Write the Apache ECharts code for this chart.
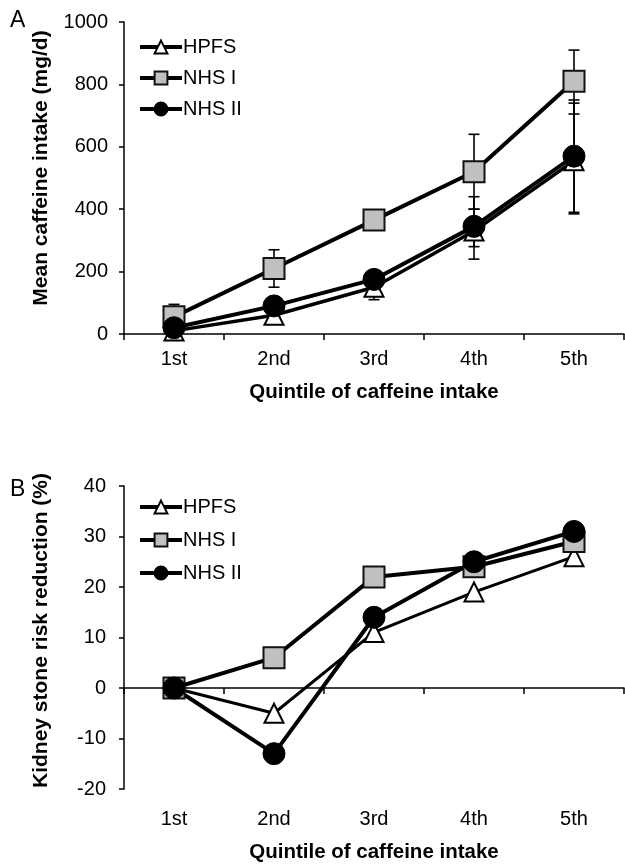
<!DOCTYPE html>
<html>
<head>
<meta charset="utf-8">
<script src="https://cdn.jsdelivr.net/npm/echarts@6/dist/echarts.min.js"></script>
<style>
html,body{margin:0;padding:0;background:#fff;}
#chart{width:625px;height:864px;}
</style>
</head>
<body>
<div id="chart"></div>
<script>
var categories = ['1st', '2nd', '3rd', '4th', '5th'];
var seriesNames = ['HPFS', 'NHS I', 'NHS II'];

// Panel A: mean caffeine intake (mg/d)
var intakeHPFS = [10, 60, 150, 330, 555];
var intakeNHS1 = [55, 210, 365, 520, 810];
var intakeNHS2 = [20, 90, 175, 345, 570];
// error bar bounds (low / high)
var lowHPFS = [5, 50, 110, 280, 385];
var highHPFS = [15, 70, 190, 400, 740];
var lowNHS1 = [15, 150, 345, 400, 705];
var highNHS1 = [95, 270, 385, 640, 910];
var lowNHS2 = [10, 80, 160, 240, 390];
var highNHS2 = [30, 100, 190, 440, 750];

// Panel B: kidney stone risk reduction (%)
var riskHPFS = [0, -5, 11, 19, 26];
var riskNHS1 = [0, 6, 22, 24, 29];
var riskNHS2 = [0, -13, 14, 25, 31];

var yTicksA = [0, 200, 400, 600, 800, 1000];
var yTicksB = [-20, -10, 0, 10, 20, 30, 40];

var FONT = '"Liberation Sans", Arial, sans-serif';

function errData(lo, hi) {
  return lo.map(function (v, i) { return [i, v, hi[i]]; });
}
function errRender(params, api) {
  var x = api.value(0);
  var p1 = api.coord([x, api.value(2)]);
  var p2 = api.coord([x, api.value(1)]);
  var w = 5.5;
  var st = { stroke: '#000', lineWidth: 1.6 };
  return {
    type: 'group',
    children: [
      { type: 'line', shape: { x1: p1[0], y1: p1[1], x2: p2[0], y2: p2[1] }, style: st },
      { type: 'line', shape: { x1: p1[0] - w, y1: p1[1], x2: p1[0] + w, y2: p1[1] }, style: st },
      { type: 'line', shape: { x1: p2[0] - w, y1: p2[1], x2: p2[0] + w, y2: p2[1] }, style: st }
    ]
  };
}

var styles = {
  'HPFS': { symbol: 'triangle', symbolSize: 19, itemStyle: { color: '#fff', borderColor: '#000', borderWidth: 2 } },
  'NHS I': { symbol: 'rect', symbolSize: 21, itemStyle: { color: '#c0c0c0', borderColor: '#111', borderWidth: 2 } },
  'NHS II': { symbol: 'circle', symbolSize: 22, itemStyle: { color: '#000', borderColor: '#000', borderWidth: 1 } }
};

function lineSeries(name, data, xIdx, yIdx, lw) {
  var s = styles[name];
  return {
    type: 'line', name: name, data: data,
    xAxisIndex: xIdx, yAxisIndex: yIdx,
    symbol: s.symbol, symbolSize: s.symbolSize,
    itemStyle: s.itemStyle,
    lineStyle: { color: '#000', width: lw },
    z: 3, animation: false
  };
}
function errSeries(lo, hi) {
  return {
    type: 'custom', renderItem: errRender, data: errData(lo, hi),
    xAxisIndex: 0, yAxisIndex: 0, encode: { x: 0, y: [1, 2] },
    z: 2, silent: true, animation: false
  };
}

var tickLabel = { color: '#000', fontSize: 20, fontFamily: FONT };
var xNameStyle = { color: '#000', fontSize: 20.5, fontWeight: 'bold', fontFamily: FONT };
var axisLine = { show: true, lineStyle: { color: '#000', width: 1.5 } };
var legendText = { color: '#000', fontSize: 20, fontFamily: FONT, padding: [0, 0, 0, -4] };

var chart = echarts.init(document.getElementById('chart'), null, { renderer: 'canvas' });
chart.setOption({
  backgroundColor: '#fff',
  animation: false,
  textStyle: { fontFamily: FONT },
  title: [
    { text: 'A', left: 5, top: 4, textStyle: { fontSize: 23, fontWeight: 'normal', color: '#000', fontFamily: FONT } },
    { text: 'B', left: 5, top: 473, textStyle: { fontSize: 23, fontWeight: 'normal', color: '#000', fontFamily: FONT } }
  ],
  grid: [
    { left: 124, top: 22, width: 500, height: 312, containLabel: false },
    { left: 124, top: 486, width: 500, height: 309, containLabel: false }
  ],
  legend: [
    { data: seriesNames, orient: 'vertical', left: 133, top: 32, itemWidth: 42, itemHeight: 16, itemGap: 11,
      lineStyle: { width: 4, color: '#000' },
      textStyle: legendText, selectedMode: false },
    { data: seriesNames, orient: 'vertical', left: 133, top: 492, itemWidth: 42, itemHeight: 16, itemGap: 13,
      lineStyle: { width: 4, color: '#000' },
      textStyle: legendText, selectedMode: false }
  ],
  xAxis: [
    { type: 'category', gridIndex: 0, data: categories, boundaryGap: true,
      axisLine: axisLine, axisTick: { show: true, length: 6, lineStyle: { color: '#000', width: 1.5 } },
      axisLabel: Object.assign({ margin: 15 }, tickLabel),
      name: 'Quintile of caffeine intake', nameLocation: 'middle', nameGap: 48, nameTextStyle: xNameStyle,
      splitLine: { show: false } },
    { type: 'category', gridIndex: 1, data: categories, boundaryGap: true,
      axisLine: { show: true, onZero: true, lineStyle: { color: '#000', width: 1.5 } },
      axisTick: { show: true, length: 6, lineStyle: { color: '#000', width: 1.5 } },
      axisLabel: { show: false }, splitLine: { show: false } },
    { type: 'category', gridIndex: 1, data: categories, boundaryGap: true, position: 'bottom',
      axisLine: { show: false, onZero: false }, axisTick: { show: false },
      axisLabel: Object.assign({ margin: 20 }, tickLabel),
      name: 'Quintile of caffeine intake', nameLocation: 'middle', nameGap: 53, nameTextStyle: xNameStyle,
      splitLine: { show: false } }
  ],
  yAxis: [
    { type: 'value', gridIndex: 0, min: yTicksA[0], max: yTicksA[yTicksA.length - 1], interval: 200,
      axisLine: axisLine, axisTick: { show: true, length: 5, lineStyle: { color: '#000', width: 1.5 } },
      axisLabel: Object.assign({ margin: 16, formatter: function (v) { return String(v); } }, tickLabel),
      splitLine: { show: false },
      name: 'Mean caffeine intake (mg/d)', nameLocation: 'middle', nameGap: 72,
      nameTextStyle: { color: '#000', fontSize: 21, fontWeight: 'bold', fontFamily: FONT, padding: [0, 0, 0, 20] } },
    { type: 'value', gridIndex: 1, min: yTicksB[0], max: yTicksB[yTicksB.length - 1], interval: 10,
      axisLine: axisLine, axisTick: { show: true, length: 5, lineStyle: { color: '#000', width: 1.5 } },
      axisLabel: Object.assign({ margin: 18, formatter: function (v) { return String(v); } }, tickLabel),
      splitLine: { show: false },
      name: 'Kidney stone risk reduction (%)', nameLocation: 'middle', nameGap: 72,
      nameTextStyle: { color: '#000', fontSize: 21, fontWeight: 'bold', fontFamily: FONT, padding: [0, 0, 0, 14] } }
  ],
  series: [
    errSeries(lowHPFS, highHPFS),
    errSeries(lowNHS1, highNHS1),
    errSeries(lowNHS2, highNHS2),
    lineSeries('HPFS', intakeHPFS, 0, 0, 3.5),
    lineSeries('NHS I', intakeNHS1, 0, 0, 4),
    lineSeries('NHS II', intakeNHS2, 0, 0, 4),
    lineSeries('HPFS', riskHPFS, 1, 1, 3),
    lineSeries('NHS I', riskNHS1, 1, 1, 4),
    lineSeries('NHS II', riskNHS2, 1, 1, 4)
  ]
});
</script>
</body>
</html>
